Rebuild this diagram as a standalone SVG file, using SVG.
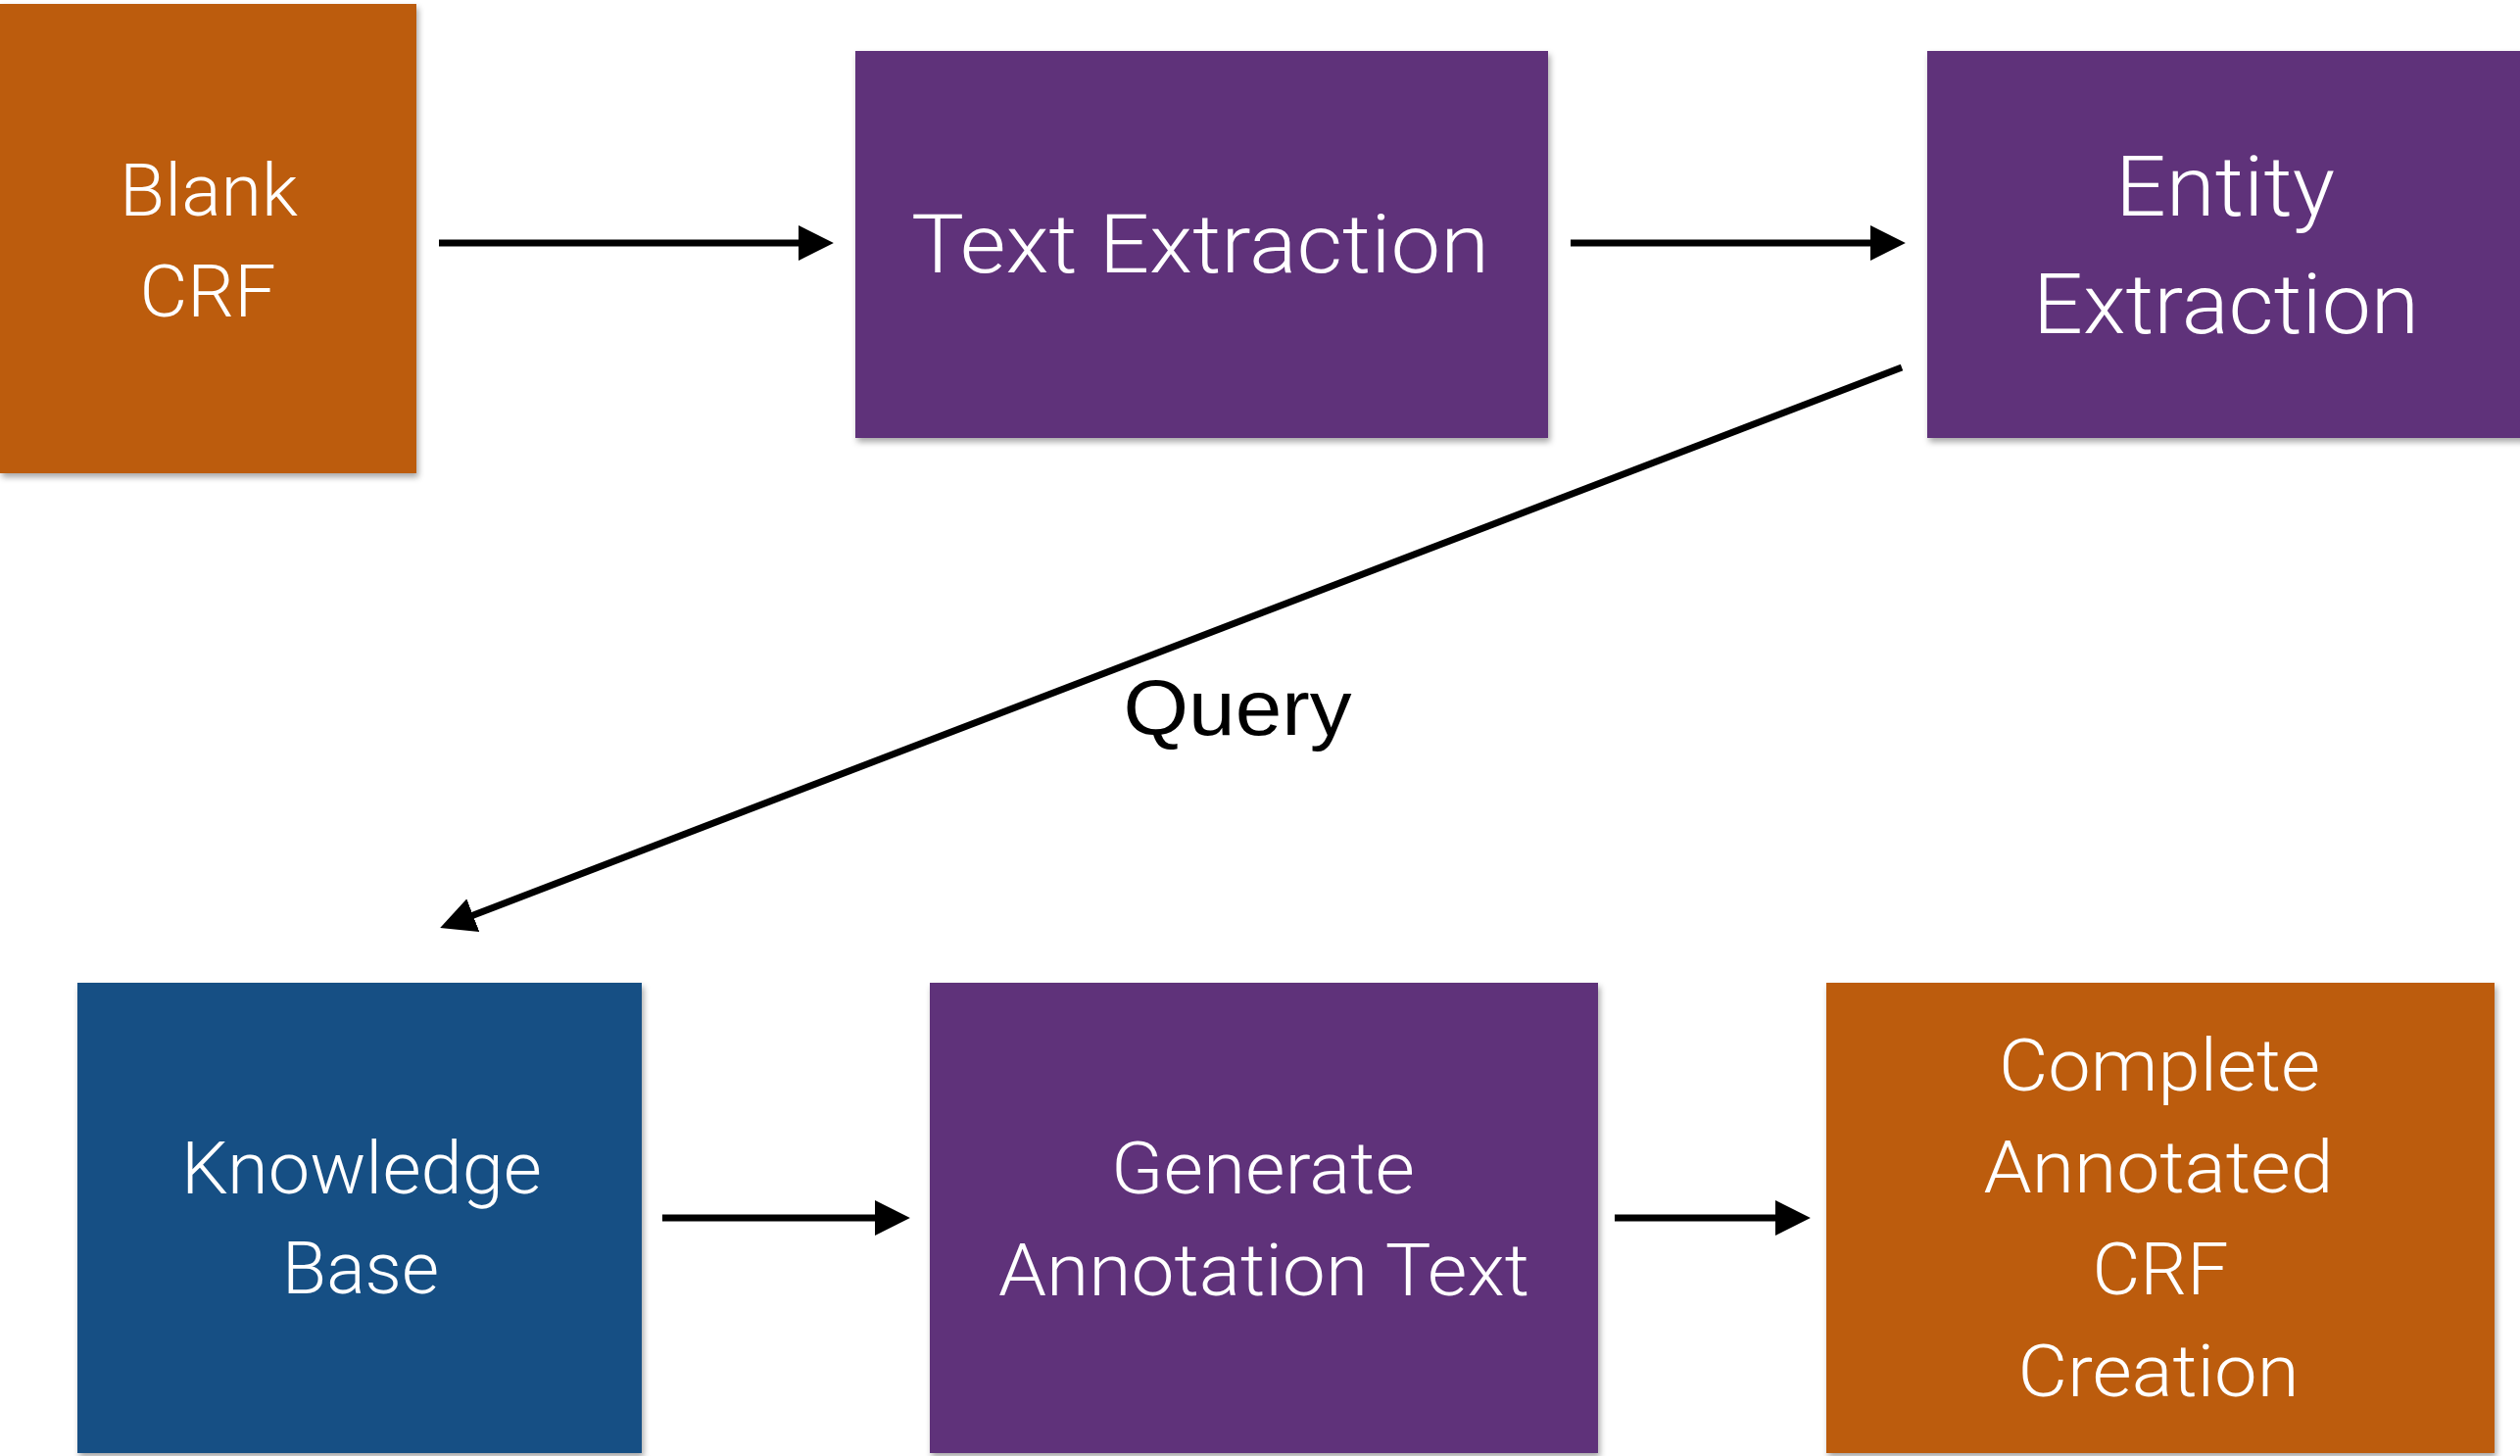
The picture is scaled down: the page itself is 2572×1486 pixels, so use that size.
<svg xmlns="http://www.w3.org/2000/svg" width="2572" height="1486" viewBox="0 0 2572 1486">
<style>
  .box { filter: url(#shadow); }
  .orange { fill: #BC5B0C; }
  .purple { fill: #5E337A; }
  .blue { fill: #175084; }
  .label { font-family: Roboto, "Liberation Sans", Arial, sans-serif; font-weight: 300; fill: #FFFFFF; text-anchor: middle; }
  .conn { stroke: #000000; stroke-width: 7; fill: none; }
  .query { font-family: "Liberation Sans", Arial, sans-serif; fill: #000000; text-anchor: middle; font-size: 80px; }
</style>
<defs>
  <filter id="shadow" x="-5%" y="-5%" width="115%" height="115%">
    <feDropShadow dx="2" dy="4" stdDeviation="3" flood-color="#000000" flood-opacity="0.35"/>
  </filter>
  <marker id="arrow" markerUnits="userSpaceOnUse" markerWidth="36" markerHeight="36" viewBox="0 0 35 35" refX="5" refY="17.5" orient="auto">
    <path d="M0,0 L35,17.5 L0,35 z" fill="#000000"/>
  </marker>
</defs>
<rect width="2572" height="1486" fill="#FFFFFF"/>

<g id="blank-crf">
  <rect class="box orange" x="0" y="4" width="425" height="479"/>
  <text class="label" font-size="74" x="213" y="220" textLength="182" lengthAdjust="spacingAndGlyphs">Blank</text>
  <text class="label" font-size="74" x="212" y="323" textLength="139" lengthAdjust="spacingAndGlyphs">CRF</text>
</g>

<g id="text-extraction">
  <rect class="box purple" x="873" y="52" width="707" height="395"/>
  <text class="label" font-size="84" x="1225" y="278" textLength="590" lengthAdjust="spacingAndGlyphs">Text Extraction</text>
</g>

<g id="entity-extraction">
  <rect class="box purple" x="1967" y="52" width="615" height="395"/>
  <text class="label" font-size="85" x="2271" y="220" textLength="224" lengthAdjust="spacingAndGlyphs">Entity</text>
  <text class="label" font-size="85" x="2272" y="340" textLength="394" lengthAdjust="spacingAndGlyphs">Extraction</text>
</g>

<g id="knowledge-base">
  <rect class="box blue" x="79" y="1003" width="576" height="480"/>
  <text class="label" font-size="74" x="369" y="1218" textLength="368" lengthAdjust="spacingAndGlyphs">Knowledge</text>
  <text class="label" font-size="74" x="368" y="1320" textLength="160" lengthAdjust="spacingAndGlyphs">Base</text>
</g>

<g id="generate-annotation-text">
  <rect class="box purple" x="949" y="1003" width="682" height="480"/>
  <text class="label" font-size="74" x="1289" y="1218" textLength="310" lengthAdjust="spacingAndGlyphs">Generate</text>
  <text class="label" font-size="74" x="1290" y="1322" textLength="542" lengthAdjust="spacingAndGlyphs">Annotation Text</text>
</g>

<g id="complete-annotated-crf">
  <rect class="box orange" x="1864" y="1003" width="682" height="480"/>
  <text class="label" font-size="74" x="2204" y="1113" textLength="328" lengthAdjust="spacingAndGlyphs">Complete</text>
  <text class="label" font-size="74" x="2203" y="1217" textLength="357" lengthAdjust="spacingAndGlyphs">Annotated</text>
  <text class="label" font-size="74" x="2205" y="1321" textLength="139" lengthAdjust="spacingAndGlyphs">CRF</text>
  <text class="label" font-size="74" x="2203" y="1425" textLength="287" lengthAdjust="spacingAndGlyphs">Creation</text>
</g>

<g id="connectors">
  <line class="conn" x1="448" y1="248" x2="820" y2="248" marker-end="url(#arrow)"/>
  <line class="conn" x1="1603" y1="248" x2="1914" y2="248" marker-end="url(#arrow)"/>
  <line class="conn" x1="1941" y1="375" x2="478" y2="936" marker-end="url(#arrow)"/>
  <line class="conn" x1="676" y1="1243" x2="898" y2="1243" marker-end="url(#arrow)"/>
  <line class="conn" x1="1648" y1="1243" x2="1817" y2="1243" marker-end="url(#arrow)"/>
  <text class="query" x="1263" y="750" textLength="233" lengthAdjust="spacingAndGlyphs">Query</text>
</g>
</svg>
